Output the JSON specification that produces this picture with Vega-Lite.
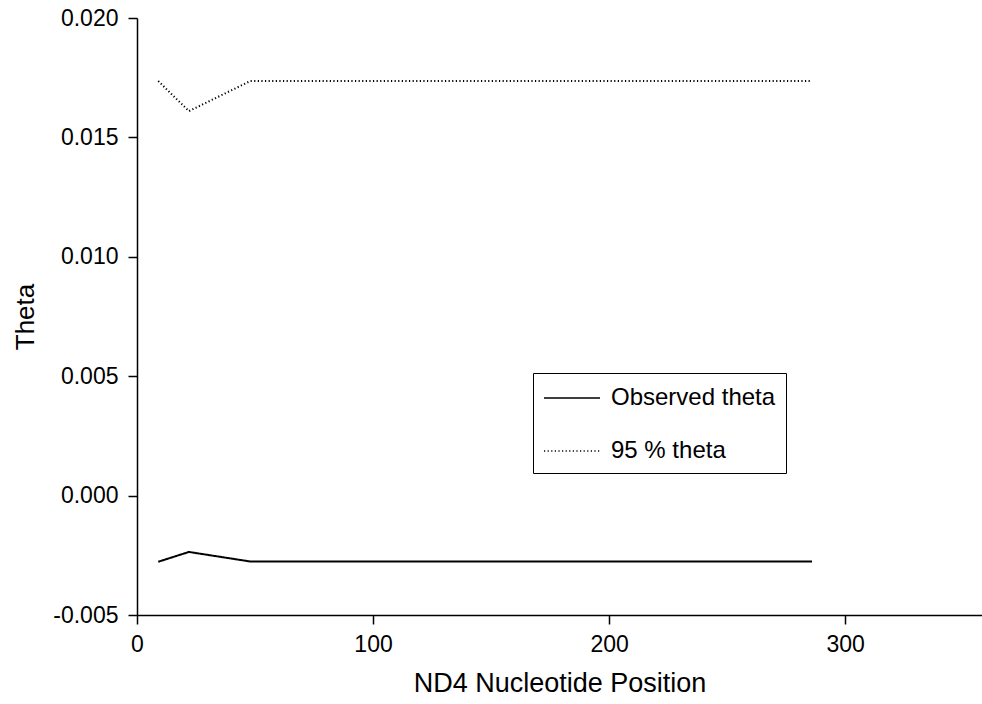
{
  "$schema": "https://vega.github.io/schema/vega-lite/v6.json",
  "width": 845,
  "height": 597,
  "autosize": {"type": "none"},
  "padding": {"left": 137, "top": 18, "right": 0, "bottom": 89},
  "background": "white",
  "config": {
    "view": {"stroke": null},
    "font": "Liberation Sans",
    "axis": {"grid": false, "domainColor": "black", "tickColor": "black", "domainWidth": 1.5, "tickWidth": 1.5, "labelColor": "black", "titleColor": "black", "labelFont": "Liberation Sans", "titleFont": "Liberation Sans", "titleFontWeight": "normal"}
  },
  "data": {
    "values": [
      {"pos": 9, "theta": -0.00277, "series": "Observed theta"},
      {"pos": 22, "theta": -0.00236, "series": "Observed theta"},
      {"pos": 48, "theta": -0.00276, "series": "Observed theta"},
      {"pos": 100, "theta": -0.00276, "series": "Observed theta"},
      {"pos": 200, "theta": -0.00276, "series": "Observed theta"},
      {"pos": 286, "theta": -0.00276, "series": "Observed theta"},
      {"pos": 9, "theta": 0.01736, "series": "95 % theta"},
      {"pos": 22, "theta": 0.0161, "series": "95 % theta"},
      {"pos": 48, "theta": 0.01736, "series": "95 % theta"},
      {"pos": 100, "theta": 0.01736, "series": "95 % theta"},
      {"pos": 200, "theta": 0.01736, "series": "95 % theta"},
      {"pos": 286, "theta": 0.01736, "series": "95 % theta"}
    ]
  },
  "mark": {"type": "line", "color": "black", "strokeWidth": 2},
  "encoding": {
    "x": {
      "field": "pos", "type": "quantitative",
      "scale": {"domain": [0, 358], "nice": false, "zero": false},
      "axis": {"values": [0, 100, 200, 300], "title": "ND4 Nucleotide Position", "labelFontSize": 23, "titleFontSize": 27, "tickSize": 9, "labelPadding": 9, "titlePadding": 14, "labelFlush": false}
    },
    "y": {
      "field": "theta", "type": "quantitative",
      "scale": {"domain": [-0.005, 0.02], "nice": false, "zero": false},
      "axis": {"values": [-0.005, 0, 0.005, 0.01, 0.015, 0.02], "labelExpr": "replace(format(datum.value, '.3f'), '−', '-')", "title": "Theta", "labelFontSize": 23, "titleFontSize": 26, "tickSize": 9, "labelPadding": 10, "titlePadding": 14, "labelFlush": false}
    },
    "strokeDash": {
      "field": "series", "type": "nominal",
      "scale": {"domain": ["Observed theta", "95 % theta"], "range": [[1, 0], [1.2, 2.4]]},
      "legend": {
        "title": null, "orient": "none", "legendX": 396, "legendY": 355,
        "strokeColor": "black", "padding": 10, "fillColor": "white",
        "symbolType": "M-1,0L3,0", "symbolSize": 784, "symbolStrokeColor": "black", "symbolStrokeWidth": 1.6,
        "labelFontSize": 24, "labelFont": "Liberation Sans", "labelColor": "black", "labelOffset": 38, "rowPadding": 26, "labelLimit": 0
      }
    }
  }
}
